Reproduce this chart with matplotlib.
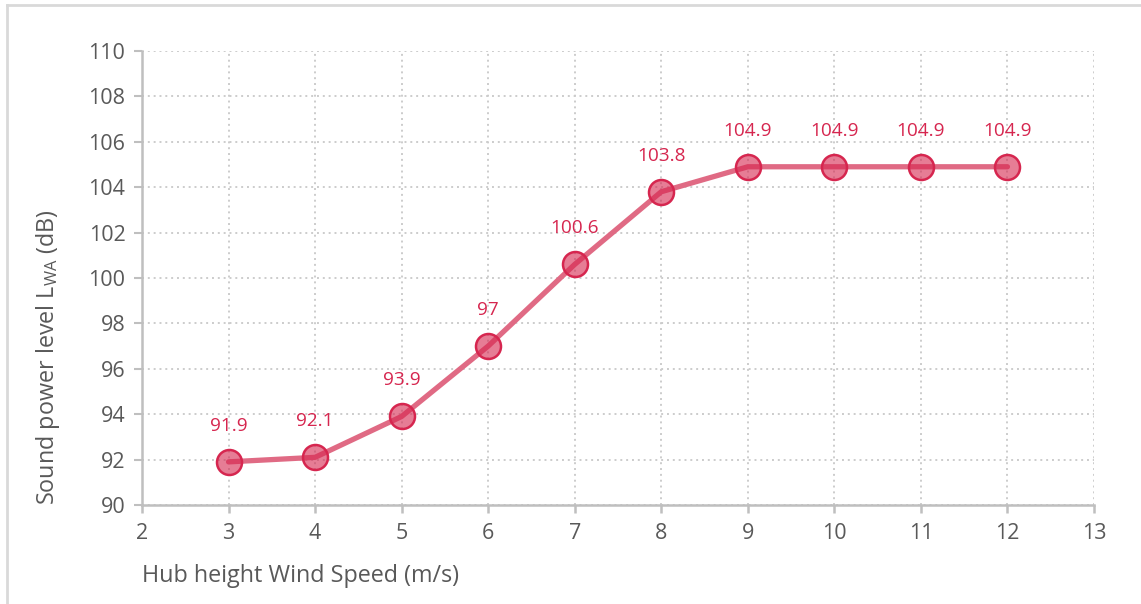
import matplotlib
matplotlib.use("Agg")
import matplotlib.pyplot as plt
from matplotlib.lines import Line2D

wind_speed = [3, 4, 5, 6, 7, 8, 9, 10, 11, 12]
sound_power = [91.9, 92.1, 93.9, 97.0, 100.6, 103.8, 104.9, 104.9, 104.9, 104.9]
point_labels = ["91.9", "92.1", "93.9", "97", "100.6", "103.8", "104.9", "104.9", "104.9", "104.9"]
x_ticks = list(range(2, 14))
y_ticks = list(range(90, 111, 2))

plt.rcParams['font.family'] = ['Open Sans', 'DejaVu Sans']

W, H = 1141, 604
fig = plt.figure(figsize=(W / 100, H / 100), dpi=100)
ax = fig.add_axes([142 / W, 1 - 505 / H, (1094 - 142) / W, (505 - 51) / H])

grid_c = '#cccccc'
axis_c = '#bfbfbf'
text_c = '#595959'
red = '#d6264f'

ax.plot(wind_speed, sound_power, color='#e06a84', lw=3.8, solid_capstyle='round', zorder=3)
ax.plot(wind_speed, sound_power, ls='none', marker='o', markersize=18,
        markerfacecolor=(214 / 255, 38 / 255, 79 / 255, 0.6), markeredgecolor=red,
        markeredgewidth=1.8, zorder=4)
for x, y, s in zip(wind_speed, sound_power, point_labels):
    ax.annotate(s, (x, y), xytext=(0, 26), textcoords='offset points',
                ha='center', va='center', color=red, fontsize=13.7, zorder=5)

ax.set_xlim(2, 13)
ax.set_ylim(90, 110)
ax.set_xticks(x_ticks)
ax.set_yticks(y_ticks)
ax.grid(True, color=grid_c, ls=(0, (1, 2)), lw=1.4)
ax.set_axisbelow(True)
for s in ['top', 'right']:
    ax.spines[s].set_visible(False)
for s in ['left', 'bottom']:
    ax.spines[s].set_color(axis_c)
    ax.spines[s].set_linewidth(1.8)
ax.tick_params(axis='x', colors=axis_c, length=6, width=1.8, labelcolor=text_c, labelsize=15.5, pad=7)
ax.tick_params(axis='y', colors=axis_c, length=6, width=1.5, labelcolor=text_c, labelsize=15.5, pad=6)

fig.text(142 / W, 1 - 576 / H, 'Hub height Wind Speed (m/s)', ha='left', va='center',
         color=text_c, fontsize=16.8)
fig.text(48 / W, 1 - 505 / H, r'Sound power level L$_{\mathregular{WA}}$ (dB)', rotation=90,
         ha='center', va='bottom', color=text_c, fontsize=16.8)

fig.add_artist(Line2D([7 / W, 7 / W], [0, 1 - 5 / H], transform=fig.transFigure, color='#d9d9d9', lw=2))
fig.add_artist(Line2D([7 / W, 1], [1 - 5 / H, 1 - 5 / H], transform=fig.transFigure, color='#d9d9d9', lw=2))

fig.savefig('out.png', dpi=100)
